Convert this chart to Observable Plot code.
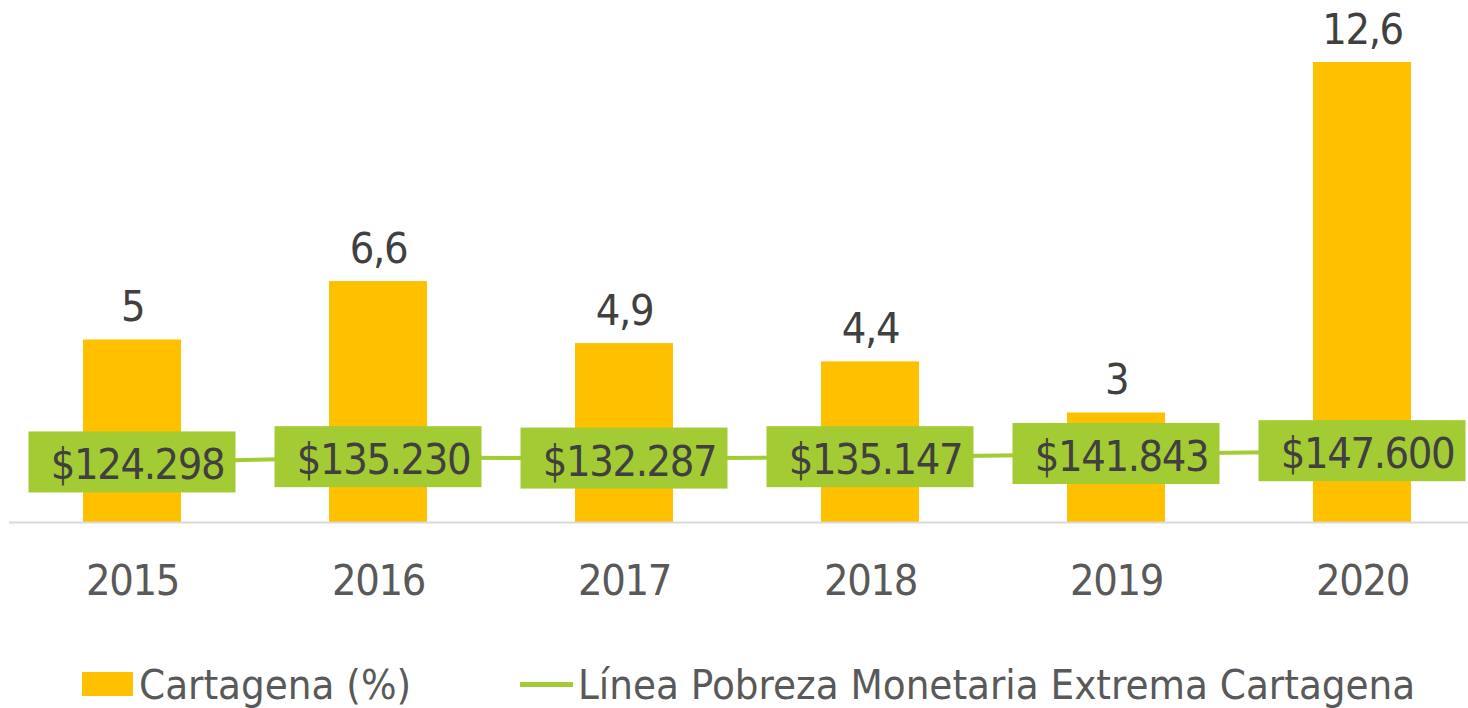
<!DOCTYPE html>
<html>
<head>
<meta charset="utf-8">
<script src="https://cdn.jsdelivr.net/npm/d3@7"></script>
<script src="https://cdn.jsdelivr.net/npm/@observablehq/plot@0.6"></script>
<style>
  body { margin: 0; background: #fff; font-family: 'DejaVu Sans Condensed', 'DejaVu Sans', sans-serif; }
  #wrap { position: relative; width: 1468px; height: 708px; overflow: hidden; }
  #chart svg text { letter-spacing: -1.4px; }
  #legend { position: absolute; left: 0; top: 656px; width: 1468px; height: 56px; color: #595959; font-size: 41.6px; }
  .item { position: absolute; top: 0; display: flex; align-items: center; height: 56px; white-space: nowrap; }
  .sw-bar { width: 51px; height: 24px; background: #FFC000; margin-right: 6px; }
  .sw-line { width: 53px; height: 5px; background: #A2CB34; margin-right: 5px; }
</style>
</head>
<body>
<div id="wrap">
  <div id="chart"></div>
  <div id="legend"></div>
</div>
<script>
// Data
const years = ["2015", "2016", "2017", "2018", "2019", "2020"];
const cartagenaPct = [5, 6.6, 4.9, 4.4, 3, 12.6];
const barLabels = ["5", "6,6", "4,9", "4,4", "3", "12,6"];
const lineaPobreza = [124298, 135230, 132287, 135147, 141843, 147600];
const lineaLabels = ["$124.298", "$135.230", "$132.287", "$135.147", "$141.843", "$147.600"];
const seriesNames = ["Cartagena (%)", "Línea Pobreza Monetaria Extrema Cartagena"];

const barColor = "#FFC000";
const lineColor = "#A2CB34";
const textColor = "#404040";
const font = "'DejaVu Sans Condensed', 'DejaVu Sans', sans-serif";

// secondary axis (line) mapped onto primary bar axis
const yMax = 12.6;
const y2 = d3.scaleLinear().domain([0, 952000]).range([0, yMax]);

const bars = years.map((y, i) => ({year: y, value: cartagenaPct[i], label: barLabels[i]}));
const line = years.map((y, i) => ({year: y, value: lineaPobreza[i], y: y2(lineaPobreza[i]), label: lineaLabels[i]}));

const chart = Plot.plot({
  width: 1468,
  height: 640,
  marginLeft: 9,
  marginRight: 0,
  marginTop: 0,
  marginBottom: 118,
  style: {fontFamily: font, background: "transparent"},
  x: {domain: years, range: [9, 1485], paddingInner: 0.6, paddingOuter: 0.3, axis: null},
  y: {domain: [0, yMax], range: [522, 62], axis: null},
  marks: [
    Plot.barY(bars, {x: "year", y: "value", fill: barColor}),
    Plot.ruleY([0], {stroke: "#D9D9D9", strokeWidth: 2}),
    Plot.text(bars, {x: "year", y: "value", text: "label", lineAnchor: "bottom", dy: -19, fontSize: 43, fill: textColor}),
    Plot.text(years, {x: d => d, y: 0, text: d => d, lineAnchor: "bottom", dy: 72, fontSize: 43, fill: "#595959"}),
    Plot.line(line, {x: "year", y: "y", stroke: lineColor, strokeWidth: 4}),
    Plot.rect(line, {x: "year", y1: "y", y2: "y", insetLeft: -54.5, insetRight: -54.5, insetTop: -30.5, insetBottom: -30.5, fill: lineColor}),
    Plot.text(line, {x: "year", y: "y", text: "label", lineAnchor: "bottom", dy: 17, dx: 5, fontSize: 43, fill: textColor})
  ]
});
document.getElementById("chart").appendChild(chart);

// Legend
const legend = document.getElementById("legend");
const it1 = document.createElement("div");
it1.className = "item"; it1.style.left = "82px";
it1.innerHTML = `<span class="sw-bar"></span><span>${seriesNames[0]}</span>`;
const it2 = document.createElement("div");
it2.className = "item"; it2.style.left = "520px";
it2.innerHTML = `<span class="sw-line"></span><span>${seriesNames[1]}</span>`;
legend.appendChild(it1);
legend.appendChild(it2);
</script>
</body>
</html>
